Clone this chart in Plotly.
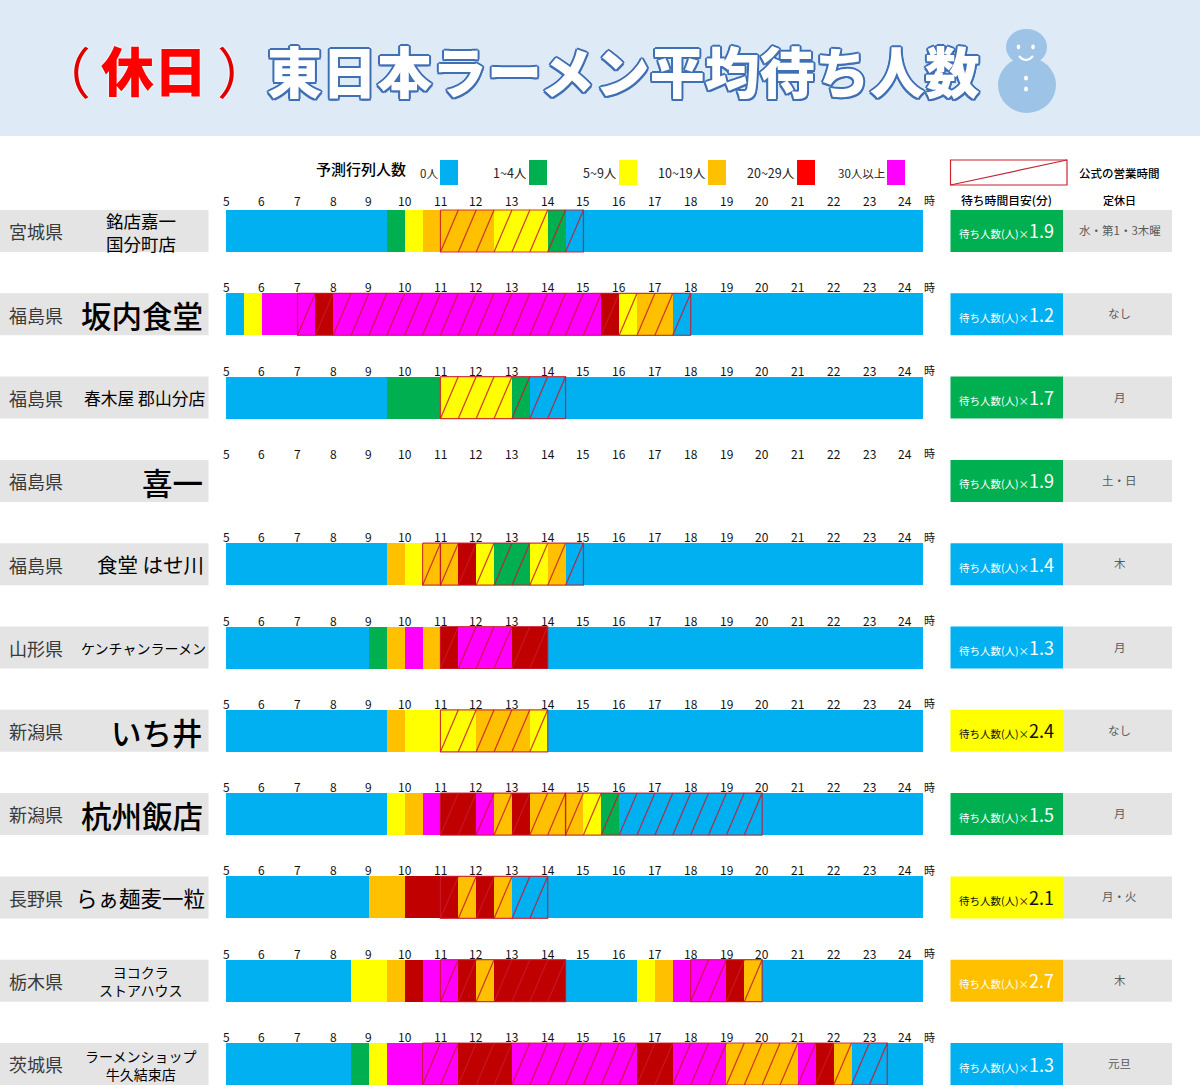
import plotly.graph_objects as go

FONT = "Noto Sans CJK JP"
W, H = 1200, 1085

# ---- data ----
prefectures = ["宮城県", "福島県", "福島県", "福島県", "福島県", "山形県", "新潟県", "新潟県", "長野県", "栃木県", "茨城県"]
shops = ["銘店嘉一<br>国分町店", "坂内食堂", "春木屋 郡山分店", "喜一", "食堂 はせ川", "ケンチャンラーメン",
         "いち井", "杭州飯店", "らぁ麺麦一粒", "ヨコクラ<br>ストアハウス", "ラーメンショップ<br>牛久結束店"]
shop_sizes = [17.5, 30.5, 16.8, 30.5, 20.5, 14, 30.5, 30.5, 21.5, 14, 14]
shop_right = [0, 203, 205, 203, 203.5, 205.5, 203, 203, 204.5, 0, 0]
multipliers = ["1.9", "1.2", "1.7", "1.9", "1.4", "1.3", "2.4", "1.5", "2.1", "2.7", "1.3"]
multiplier_levels = [1, 0, 1, 1, 0, 0, 2, 1, 2, 3, 0]
closed_days = ["水・第1・3木曜", "なし", "月", "土・日", "木", "月", "なし", "月", "月・火", "木", "元旦"]

level_names = ["0人", "1~4人", "5~9人", "10~19人", "20~29人", "30人以上"]
level_colors = ["#00B0F0", "#00B050", "#FFFF00", "#FFC000", "#C00000", "#FF00FF"]
legend_colors = ["#00B0F0", "#00B050", "#FFFF00", "#FFC000", "#FF0000", "#FF00FF"]
legend_sizes = [11.5, 12.5, 12.5, 12.5, 12.5, 11.5]
hours = list(range(5, 25))

# wait level per period; period edges in hours
miyagi_edges = [5, 9.5, 10, 10.5, 12.5, 14, 14.5, 24.5]
miyagi_levels = [0, 1, 2, 3, 2, 1, 0]
sakauchi_edges = [5, 5.5, 6, 7.5, 8, 15.5, 16, 16.5, 17.5, 24.5]
sakauchi_levels = [0, 2, 5, 4, 5, 4, 2, 3, 0]
harukiya_edges = [5, 9.5, 11, 13, 13.5, 24.5]
harukiya_levels = [0, 1, 2, 1, 0]
kiichi_edges = []
kiichi_levels = []
hasegawa_edges = [5, 9.5, 10, 10.5, 11.5, 12, 12.5, 13.5, 14, 14.5, 24.5]
hasegawa_levels = [0, 3, 2, 3, 4, 2, 1, 2, 3, 0]
kenchan_edges = [5, 9, 9.5, 10, 10.5, 11, 11.5, 13, 14, 24.5]
kenchan_levels = [0, 1, 3, 5, 3, 4, 5, 4, 0]
ichii_edges = [5, 9.5, 10, 12, 13.5, 14, 24.5]
ichii_levels = [0, 3, 2, 3, 2, 0]
koshu_edges = [5, 9.5, 10, 10.5, 11, 12, 12.5, 13, 13.5, 15, 15.5, 16, 24.5]
koshu_levels = [0, 2, 3, 5, 4, 5, 3, 4, 3, 2, 1, 0]
ichiryu_edges = [5, 9, 10, 11.5, 12, 12.5, 13, 24.5]
ichiryu_levels = [0, 3, 4, 3, 4, 3, 0]
yokokura_edges = [5, 8.5, 9.5, 10, 10.5, 11.5, 12, 12.5, 14.5, 16.5, 17, 17.5, 19, 19.5, 20, 24.5]
yokokura_levels = [0, 2, 3, 4, 5, 4, 3, 4, 0, 2, 3, 5, 4, 3, 0]
ushiku_edges = [5, 8.5, 9, 9.5, 11.5, 13, 16.5, 17.5, 19, 21, 21.5, 22, 22.5, 24.5]
ushiku_levels = [0, 1, 2, 5, 4, 5, 4, 5, 3, 5, 4, 3, 0]

row_edges = [miyagi_edges, sakauchi_edges, harukiya_edges, kiichi_edges, hasegawa_edges, kenchan_edges,
             ichii_edges, koshu_edges, ichiryu_edges, yokokura_edges, ushiku_edges]
row_levels = [miyagi_levels, sakauchi_levels, harukiya_levels, kiichi_levels, hasegawa_levels, kenchan_levels,
              ichii_levels, koshu_levels, ichiryu_levels, yokokura_levels, ushiku_levels]

# official opening hours per row
open_hours = [[(11, 15)], [(7, 18)], [(11, 14.5)], [], [(10.5, 11), (11, 15)], [(11, 14)],
              [(11, 14)], [(11, 14.5), (14.5, 20)], [(11, 14)], [(11, 14.5), (18, 20)], [(10.5, 23.5)]]

# ---- layout constants ----
ROW0, PITCH, BAR_H = 231.0, 83.3, 42.0
half = BAR_H / PITCH / 2
px = lambda x: x / W
py = lambda y: 1 - y / H

fig = go.Figure()

# stacked periods, one trace per wait level
for lv, (name, col) in enumerate(zip(level_names, level_colors)):
    ys, bases, widths = [], [], []
    for r, (edges, levels) in enumerate(zip(row_edges, row_levels)):
        for i, l in enumerate(levels):
            if l == lv:
                ys.append(r)
                bases.append(edges[i])
                widths.append(edges[i + 1] - edges[i])
    fig.add_trace(go.Bar(orientation="h", y=ys, base=bases, x=widths, width=BAR_H / PITCH,
                         name=name, marker=dict(color=col, line=dict(width=0)), showlegend=False))

# opening-hours hatch: outline with a diagonal in every half-hour cell
hx, hy = [], []
for r, spans in enumerate(open_hours):
    for a, b in spans:
        hx += [a, b, b, a, a, None]
        hy += [r - half, r - half, r + half, r + half, r - half, None]
        t = a
        while t < b:
            hx += [t, t + 0.5, None]
            hy += [r + half, r - half, None]
            t += 0.5
fig.add_trace(go.Scatter(x=hx, y=hy, mode="lines", name="公式の営業時間", showlegend=False,
                         line=dict(color="rgba(200,25,45,0.85)", width=1.2), cliponaxis=False))

shapes, anns = [], []


def rect(x0, y0, x1, y1, color, layer="below", line=None):
    shapes.append(dict(type="rect", xref="paper", yref="paper", x0=px(x0), x1=px(x1), y0=py(y0), y1=py(y1),
                       fillcolor=color, layer=layer, line=line or dict(width=0)))


def oval(cx, cy, rx, ry, color):
    shapes.append(dict(type="circle", xref="paper", yref="paper", x0=px(cx - rx), x1=px(cx + rx),
                       y0=py(cy + ry), y1=py(cy - ry), fillcolor=color, layer="above", line=dict(width=0)))


def text(x, y, s, size, color="#000000", anchor="center", weight=400, shadow=None):
    f = dict(family=FONT, size=size, color=color, weight=weight)
    if shadow:
        f["shadow"] = shadow
    anns.append(dict(xref="paper", yref="paper", x=px(x), y=py(y), text=s, showarrow=False, font=f,
                     xanchor=anchor, yanchor="middle", align="center", borderpad=0, borderwidth=0))


# header band and title
rect(0, 0, W, 136, "#DEEBF7")
glow = "0 0 2px #FFFFFF, 0 0 2px #FFFFFF"
text(63.5, 69, "（", 55, "#E00000", weight=400, shadow=glow)
text(154, 69, "休日", 53, "#FF0000", weight=900, shadow=glow)
text(244.5, 69, "）", 55, "#E00000", weight=400, shadow=glow)
o = "#3F6FB5"
text(623, 69, "東日本ラーメン平均待ち人数", 55, "#FFFFFF", weight=900,
     shadow=f"-1.5px -1.5px 0 {o}, 1.5px -1.5px 0 {o}, -1.5px 1.5px 0 {o}, 1.5px 1.5px 0 {o}, 0 2px 0 {o}, 2px 0 0 {o}, -2px 0 0 {o}, 0 -2px 0 {o}")

# snowman
oval(1027, 85, 29, 28, "#9DC3E6")
oval(1026.5, 47, 20.5, 18, "#9DC3E6")
for ex in (1018.5, 1033):
    oval(ex, 47, 1.8, 2.4, "#FFFFFF")
oval(1026, 78, 2, 2.5, "#FFFFFF")
oval(1026, 89, 2, 2.5, "#FFFFFF")
shapes.append(dict(type="path", xref="paper", yref="paper",
                   path=f"M {px(1019)} {py(56)} Q {px(1026)} {py(64)} {px(1033)} {py(56)}",
                   line=dict(color="#FFFFFF", width=2), layer="above"))

# legend
text(361, 168.5, "予測行列人数", 15, weight=500)
leg_right = [438, 527, 617, 706, 795, 885]
leg_sw = [440, 529, 619, 708, 797, 887]
for name, col, tx, sx, sz in zip(level_names, legend_colors, leg_right, leg_sw, legend_sizes):
    text(tx, 172.5, name, sz, "#222222", anchor="right")
    rect(sx, 160, sx + 18, 185, col)
rect(950.5, 160, 1067, 185, "rgba(0,0,0,0)", line=dict(color="#D02030", width=1.2))
shapes.append(dict(type="line", xref="paper", yref="paper", x0=px(950.5), y0=py(185), x1=px(1067), y1=py(160),
                   line=dict(color="#C02838", width=1.2)))
text(1119.5, 173, "公式の営業時間", 11.5, weight=500)
text(1006, 199.5, "待ち時間目安(分)", 11.8, weight=500)
text(1119.5, 200, "定休日", 11, weight=500)

# rows
for r in range(len(shops)):
    yc = ROW0 + PITCH * r
    top, bot = yc - BAR_H / 2, yc + BAR_H / 2
    rect(0, top, 208.5, bot, "#E4E4E4")
    rect(950.5, top, 1063, bot, level_colors[multiplier_levels[r]])
    rect(1063, top, 1172, bot, "#E4E4E4")
    text(9, yc + 0.3, prefectures[r], 18, "#3A3A3A", anchor="left")
    if "<br>" in shops[r]:
        text(140.5, yc + 0.5, shops[r], shop_sizes[r])
    else:
        big = shop_sizes[r] >= 30
        text(shop_right[r], yc + (1 if big else 0), shops[r], shop_sizes[r], anchor="right", weight=500 if big else 400)
    tcol = "#111111" if multiplier_levels[r] == 2 else "#FFFFFF"
    text(1007, yc - 0.5,
         f'<span style="font-size:10.5px">待ち人数(人)×</span><span style="font-size:18px">{multipliers[r]}</span>',
         18, tcol)
    text(1119.5, yc - 1, closed_days[r], 11.5, "#595959")
    lift = 31 if r == 0 else 27.5
    for h in hours:
        anns.append(dict(xref="x", yref="y", x=h, y=r, yshift=lift, text=str(h), showarrow=False,
                         font=dict(family=FONT, size=12, color="#111111"), xanchor="center", yanchor="middle",
                         borderpad=0))
    text(929.5, yc - lift, "時", 11, "#111111")

fig.update_layout(
    width=W, height=H, margin=dict(l=0, r=0, t=0, b=0, pad=0, autoexpand=False),
    paper_bgcolor="#FFFFFF", plot_bgcolor="rgba(0,0,0,0)",
    barmode="overlay", bargap=0, hovermode=False, showlegend=False,
    shapes=shapes, annotations=anns,
    xaxis=dict(domain=[226 / W, 923 / W], range=[5, 24.5], visible=False, fixedrange=True),
    yaxis=dict(domain=[0, 1], range=[(H - ROW0) / PITCH, -ROW0 / PITCH], visible=False, fixedrange=True),
)

fig.write_html("out.html", config=dict(displayModeBar=False),
               post_script="document.body.style.margin='0';document.body.style.overflow='hidden';")
